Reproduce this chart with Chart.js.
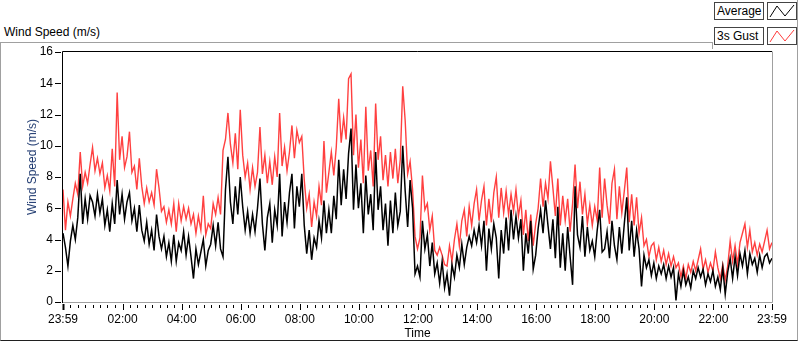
<!DOCTYPE html>
<html><head><meta charset="utf-8">
<script src="https://cdn.jsdelivr.net/npm/chart.js@4/dist/chart.umd.min.js"></script>
<style>
html,body{margin:0;padding:0;background:#fff;width:800px;height:342px;overflow:hidden;font-family:"Liberation Sans",Arial,sans-serif;}
#wrap{position:relative;width:800px;height:342px;}
canvas{position:absolute;left:0;top:0;}
#frame{position:absolute;left:0;top:42px;width:796px;height:297px;border-left:1px solid #a0a0a0;border-top:1px solid #a0a0a0;border-right:1px solid #a0a0a0;border-bottom:1px solid #202020;pointer-events:none;}
#panel{position:absolute;left:712px;top:0;width:85px;height:48px;background:#fff;border-right:1px solid #a0a0a0;}
#panelEdge{position:absolute;left:712px;top:42px;width:1px;height:7px;background:#a0a0a0;}
#title{position:absolute;left:4px;top:25px;font-size:12px;color:#000;white-space:nowrap;}
#ytitle{position:absolute;left:32px;top:167px;font-size:12px;color:#1f3a70;white-space:nowrap;transform:translate(-50%,-50%) rotate(-90deg);}
.lbox{position:absolute;left:714px;width:46px;height:16px;border:1px solid #444;font-size:12px;line-height:16px;padding-left:2px;color:#000;background:#fff;white-space:nowrap;}
.ibox{position:absolute;left:767px;width:28px;height:16px;border:1px solid #444;background:#fff;}
.ibox svg{display:block;}
</style></head>
<body><div id="wrap">
<div id="frame"></div>
<div id="panel"></div><div id="panelEdge"></div>
<div id="title">Wind Speed (m/s)</div>
<canvas id="c" width="800" height="342"></canvas>
<div id="ytitle">Wind Speed (m/s)</div>
<div class="lbox" style="top:2px">Average</div>
<div class="ibox" style="top:2px"><svg width="28" height="16"><polyline points="2,14 9,3 17,13 26,2" fill="none" stroke="#000" stroke-width="1"/></svg></div>
<div class="lbox" style="top:27px">3s Gust</div>
<div class="ibox" style="top:27px"><svg width="28" height="16"><polyline points="2,14 9,3 17,13 26,2" fill="none" stroke="#ff3c3c" stroke-width="1"/></svg></div>
</div>
<script>
// ---- data ----
const seriesNames = ['Average', '3s Gust'];
const sampleStepMinutes = 5; // minutes between samples, starting at 23:59
const tickMinutes = [0, 121, 241, 361, 481, 601, 721, 841, 961, 1081, 1201, 1321, 1440];
const tickLabels = ['23:59', '02:00', '04:00', '06:00', '08:00', '10:00', '12:00', '14:00', '16:00', '18:00', '20:00', '22:00', '23:59'];
const yTicks = [0, 2, 4, 6, 8, 10, 12, 14, 16];

const avgSpeed = [
 4.4,3.5,2.3,3.9,4.9,4.0,5.4,8.2,5.0,6.6,5.3,6.8,
 6.4,5.5,6.9,5.7,6.6,4.9,5.9,4.5,6.3,5.0,7.8,5.6,
 6.9,5.3,6.4,7.0,5.2,6.0,4.5,6.2,4.6,3.9,5.1,3.7,
 4.6,3.3,5.6,4.2,3.4,4.2,2.9,3.8,2.6,4.3,2.6,3.8,
 3.3,4.5,3.0,4.2,2.9,1.5,3.4,2.4,3.2,4.0,2.3,3.3,
 3.7,4.9,3.6,5.1,3.4,2.9,7.2,9.3,6.4,5.0,7.4,5.6,
 8.0,6.1,4.6,5.8,4.4,5.6,4.5,6.0,7.9,5.0,3.3,5.4,
 6.3,3.8,5.9,4.9,8.2,4.2,6.4,5.1,7.0,8.2,4.7,7.4,
 6.1,8.2,4.9,3.1,4.6,2.7,4.1,3.5,5.2,4.1,6.5,4.4,
 5.9,4.4,6.8,5.3,9.1,6.2,8.5,6.6,9.5,11.1,5.9,8.8,
 6.0,7.6,4.4,8.1,5.6,6.9,4.6,9.6,5.9,7.4,4.6,6.3,
 3.6,6.5,4.4,7.0,4.9,5.8,10.0,7.1,4.8,7.8,6.0,1.8,
 2.3,1.6,5.2,3.4,4.3,2.3,3.8,1.8,2.5,1.2,2.6,0.9,
 1.8,0.4,2.4,1.6,3.0,2.2,3.7,2.4,3.5,4.2,3.6,4.6,
 3.8,4.9,3.6,5.2,2.0,4.7,3.4,5.0,4.1,1.5,4.6,3.1,
 5.4,3.3,5.9,4.0,5.5,4.1,5.3,2.0,4.4,3.1,5.2,2.1,
 3.0,4.7,5.9,4.4,6.5,4.9,3.4,5.3,2.8,6.1,2.2,4.4,
 2.0,4.8,2.9,1.1,7.4,4.3,3.5,5.5,2.9,4.8,3.3,3.9,
 2.9,4.6,5.9,3.2,3.4,4.5,2.8,5.2,3.6,2.7,4.8,3.1,
 5.0,6.7,3.3,5.2,2.9,4.6,3.4,1.0,3.0,2.2,2.7,1.7,
 2.5,1.5,2.3,1.8,2.4,1.5,2.3,1.6,2.2,0.1,1.8,1.0,
 2.0,1.1,1.6,0.9,2.0,1.5,2.2,1.6,2.1,1.1,1.8,1.3,
 2.0,1.0,1.6,0.8,2.2,0.5,1.9,2.8,1.5,2.9,1.7,3.1,
 2.3,3.3,1.8,3.1,2.4,2.8,1.9,3.0,2.2,2.9,3.1,2.5,
 2.8
];
const gustSpeed = [
 7.2,4.6,6.4,5.5,6.6,7.6,6.9,9.6,7.4,8.3,7.6,8.8,
 9.9,8.4,9.2,8.2,8.9,7.3,8.1,7.1,9.8,7.4,13.4,9.1,
 10.6,8.6,9.3,10.9,8.3,8.7,7.2,9.2,7.4,6.3,7.3,6.4,
 7.0,6.2,8.5,7.3,5.8,6.1,5.1,5.9,5.0,6.3,4.5,6.3,
 5.2,6.1,5.3,6.0,5.0,5.6,4.4,5.5,4.6,6.8,4.3,5.0,
 4.7,6.3,5.6,6.7,5.6,9.7,10.4,12.1,10.1,8.9,10.8,8.5,
 12.3,9.4,8.0,8.9,7.2,8.6,7.4,8.3,11.2,8.2,9.4,7.6,
 9.0,7.5,9.3,8.0,12.1,8.7,9.9,8.4,9.6,11.3,9.2,11.0,
 10.2,10.6,7.8,6.0,6.9,4.8,6.4,5.5,7.4,6.2,10.3,7.0,
 8.3,9.6,8.1,9.9,13.0,10.2,11.8,10.4,14.3,14.6,9.4,12.0,
 8.6,10.4,7.6,12.5,8.4,9.7,7.4,12.7,9.1,10.6,7.8,9.4,
 7.4,9.6,7.9,9.8,7.6,9.1,13.8,11.6,8.2,9.0,7.2,4.2,
 3.4,4.1,8.1,5.9,6.3,4.6,5.5,3.3,3.0,3.5,3.0,2.4,
 2.3,3.6,2.6,4.0,5.0,3.6,5.2,5.9,4.2,6.1,4.9,6.3,
 7.2,5.2,6.5,7.4,4.9,6.6,5.1,7.0,8.0,5.4,7.3,5.7,
 7.1,5.6,6.9,5.8,7.2,5.5,6.5,4.3,5.9,3.9,5.6,3.6,
 5.0,6.0,7.9,6.1,7.6,6.6,9.0,7.3,5.5,7.9,4.9,6.8,
 5.2,6.6,4.5,6.3,8.8,6.0,7.7,5.6,6.9,5.0,6.2,4.9,
 6.1,5.2,8.6,5.4,7.9,6.2,5.0,7.6,8.5,5.3,7.4,5.7,
 7.1,8.6,5.1,6.9,4.9,6.7,4.4,5.4,3.6,4.0,2.9,3.6,
 3.8,2.7,3.5,2.6,3.3,2.4,3.1,2.3,2.9,2.2,2.5,1.6,
 2.3,1.5,2.4,1.9,2.6,2.0,2.7,3.4,2.1,2.7,1.9,2.5,
 2.0,3.2,2.2,1.5,2.4,1.4,2.3,3.9,2.6,3.6,2.4,3.8,
 4.4,5.0,3.5,4.6,3.2,3.8,3.0,3.7,3.2,3.9,4.6,3.4,
 3.8
];

const FONT = {family: '"Liberation Sans", Arial, sans-serif', size: 12};

const framePlugin = {
  id: 'frameTicks',
  afterDatasetsDraw(chart) {
    const {ctx, chartArea: a, scales: {x, y}} = chart;
    ctx.save();
    // plot frame: left/top dark, right/bottom gray
    ctx.strokeStyle = '#000'; ctx.lineWidth = 1;
    ctx.beginPath(); ctx.moveTo(a.left - 0.5, a.bottom + 1); ctx.lineTo(a.left - 0.5, a.top - 0.5); ctx.lineTo(a.right, a.top - 0.5); ctx.stroke();
    ctx.strokeStyle = '#a0a0a0';
    ctx.beginPath(); ctx.moveTo(a.right + 0.5, a.top - 0.5); ctx.lineTo(a.right + 0.5, a.bottom + 0.5); ctx.lineTo(a.left, a.bottom + 0.5); ctx.stroke();
    // y tick dashes
    ctx.strokeStyle = '#000'; ctx.lineWidth = 1;
    yTicks.forEach(v => {
      const py = Math.round(y.getPixelForValue(v)) + 0.5;
      ctx.beginPath(); ctx.moveTo(a.left - 8, py); ctx.lineTo(a.left - 2, py); ctx.stroke();
    });
    // x ticks: majors + minor every 15 min
    for (let k = 0; k < tickMinutes.length - 1; k++) {
      for (let m = tickMinutes[k] + 15; m < tickMinutes[k + 1] - 5; m += 15) {
        const px = Math.round(x.getPixelForValue(m)) + 0.5;
        ctx.beginPath(); ctx.moveTo(px, a.bottom + 3); ctx.lineTo(px, a.bottom + 6); ctx.stroke();
      }
    }
    tickMinutes.forEach((m, i) => {
      const px = Math.round(x.getPixelForValue(m)) + 0.5;
      ctx.lineWidth = (i === 0) ? 2 : 1;
      ctx.beginPath(); ctx.moveTo(px, a.bottom + 2); ctx.lineTo(px, a.bottom + 8); ctx.stroke();
    });
    ctx.restore();
  }
};

const toPoints = arr => arr.map((v, i) => ({x: i * sampleStepMinutes, y: v}));

new Chart(document.getElementById('c'), {
  type: 'line',
  data: {
    datasets: [
      {label: seriesNames[0], data: toPoints(avgSpeed), borderColor: '#000000', borderWidth: 1.5, pointRadius: 0, tension: 0, fill: false},
      {label: seriesNames[1], data: toPoints(gustSpeed), borderColor: '#ff4040', borderWidth: 1.4, pointRadius: 0, tension: 0, fill: false}
    ]
  },
  options: {
    responsive: false, animation: false, devicePixelRatio: 1,
    layout: {padding: {left: 0, top: 52, right: 28, bottom: 0}},
    plugins: {legend: {display: false}, tooltip: {enabled: false}, title: {display: false}},
    scales: {
      x: {
        type: 'linear', min: 0, max: 1440,
        afterBuildTicks(s) { s.ticks = tickMinutes.map(v => ({value: v})); },
        afterFit(s) { s.height = 40; },
        grid: {display: false, drawTicks: false}, border: {display: false},
        ticks: {autoSkip: false, maxRotation: 0, padding: 10, color: '#000', font: FONT,
                callback: (v, i) => tickLabels[i]},
        title: {display: true, text: 'Time', color: '#000', font: FONT, padding: {top: 0, bottom: 1}}
      },
      y: {
        min: 0, max: 16,
        afterBuildTicks(s) { s.ticks = yTicks.map(v => ({value: v})); },
        afterFit(s) { s.width = 63; },
        grid: {display: false, drawTicks: false}, border: {display: false},
        ticks: {padding: 10, color: '#000', font: FONT},
        title: {display: false}
      }
    }
  },
  plugins: [framePlugin]
});
</script>
</body></html>
